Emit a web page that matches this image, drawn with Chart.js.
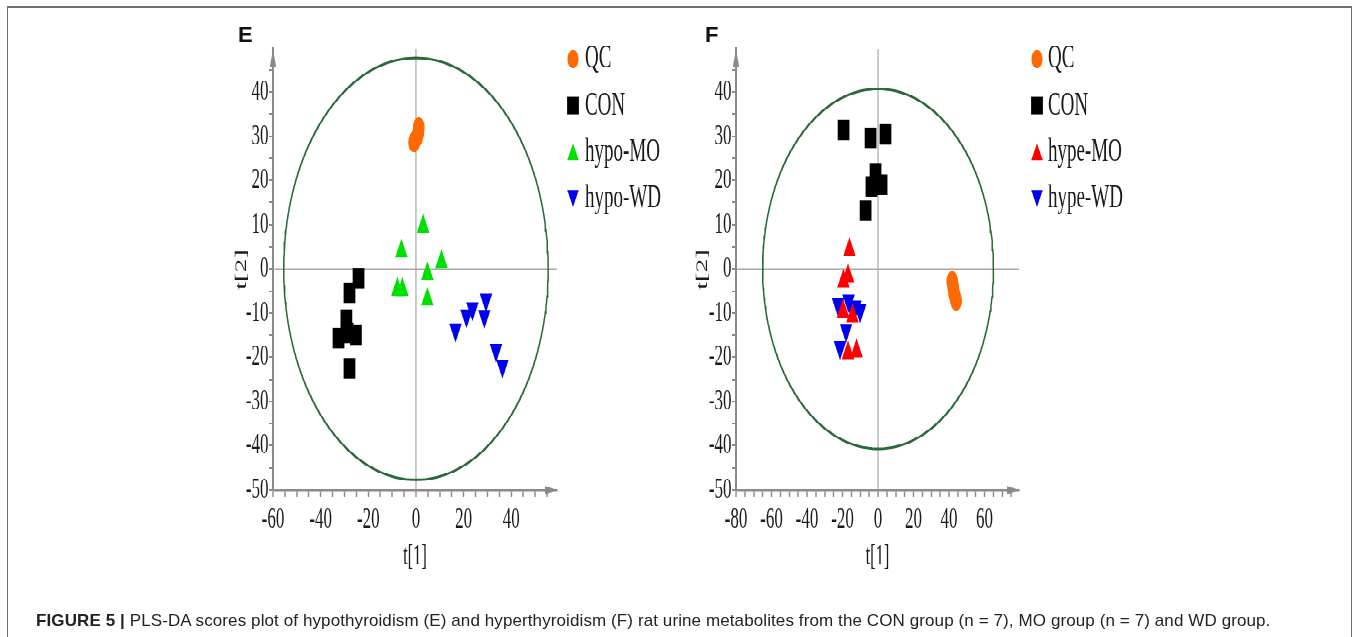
<!DOCTYPE html>
<html>
<head>
<meta charset="utf-8">
<script src="https://cdn.jsdelivr.net/npm/chart.js@4.4.1/dist/chart.umd.min.js"></script>
<style>
html,body{margin:0;padding:0;background:#fff;}
body{width:1356px;height:637px;position:relative;overflow:hidden;font-family:"Liberation Sans",Arial,sans-serif;}
#frame{position:absolute;left:7px;top:6px;width:1345px;height:700px;border-top:2px solid #6e6e6e;border-left:1.5px solid #6e6e6e;border-right:1.5px solid #6e6e6e;box-sizing:border-box;}
#stretch{position:absolute;left:0;top:0;width:1356px;transform-origin:0 0;}
.box{position:absolute;top:0;}
.panel{position:absolute;top:24px;font-weight:bold;font-size:22px;line-height:22px;color:#111;}
#caption{position:absolute;left:36px;top:612px;font-size:17px;line-height:17px;letter-spacing:0.1px;color:#222;white-space:nowrap;}
</style>
</head>
<body>
<div id="frame"></div>
<div id="stretch">
  <div class="box" id="boxE"><canvas id="cE"></canvas></div>
  <div class="box" id="boxF"><canvas id="cF"></canvas></div>
</div>
<div class="panel" style="left:238px;">E</div>
<div class="panel" style="left:705px;">F</div>
<div id="caption"><b>FIGURE 5 |</b> PLS-DA scores plot of hypothyroidism (E) and hyperthyroidism (F) rat urine metabolites from the CON group (n = 7), MO group (n = 7) and WD group.</div>
<script>
// ---------- data ----------
const seriesLabelsE = ['QC', 'CON', 'hypo-MO', 'hypo-WD'];
const seriesLabelsF = ['QC', 'CON', 'hype-MO', 'hype-WD'];

const qcE  = [[1.2, 32.0], [1.0, 30.8], [0.5, 29.8], [-0.5, 29.0], [-0.8, 28.6]];
const conE = [[-24.1, -2.1], [-27.9, -5.4], [-29.2, -11.5], [-32.5, -15.7], [-25.2, -14.9], [-28.7, -14.5], [-27.9, -22.5]];
const moE  = [[3.0, 9.6], [-6.1, 4.0], [10.7, 1.6], [4.8, -1.1], [-7.8, -4.7], [-5.7, -4.7], [4.8, -6.9]];
const wdE  = [[16.6, -13.8], [21.2, -10.6], [23.7, -9.0], [29.4, -7.0], [28.7, -10.7], [33.6, -18.4], [36.3, -22.0]];

const qcF  = [[41.8, -2.8], [42.3, -4.0], [42.8, -5.5], [43.5, -6.5], [44.0, -7.2]];
const conF = [[-19.4, 31.4], [-4.2, 29.6], [4.2, 30.4], [-1.4, 21.6], [-3.7, 18.6], [2.0, 19.0], [-7.0, 13.1]];
const moF  = [[-16.1, 4.3], [-16.9, -1.6], [-19.5, -2.8], [-19.7, -9.6], [-14.4, -10.7], [-16.9, -19.0], [-12.1, -18.6]];
const wdF  = [[-22.5, -8.1], [-16.6, -7.2], [-14.4, -9.2], [-10.1, -9.5], [-18.0, -13.9], [-21.4, -17.8], [-12.8, -8.6]];

const xTickLabelsE = [-60, -40, -20, 0, 20, 40];
const xTickLabelsF = [-80, -60, -40, -20, 0, 20, 40, 60];
const yTickLabels  = [-50, -40, -30, -20, -10, 0, 10, 20, 30, 40];

const ellipseE = {rx: 55.5, ry: 47.7};
const ellipseF = {rx: 65.0, ry: 40.7};
const rangeE = {xMin: -60, xMax: 59.2, yMin: -50, yMax: 49.7};
const rangeF = {xMin: -80, xMax: 79.4, yMin: -50, yMax: 49.7};

// ---------- styling / layout ----------
const K = 1.75;              // vertical stretch of the plot image
const H = 637 / K;
const stretch = document.getElementById('stretch');
stretch.style.height = H + 'px';
stretch.style.transform = 'scaleY(' + K + ')';

const ORANGE = '#ff6a00', BLACK = '#000000', GREEN = '#00e000', BLUE = '#0000f0', RED = '#ff0000';
const AXIS = '#8a8a8a', ZERO = '#a8a8a8', ELL = '#2a6a3a', TXT = '#1a1a1a';
const SERIF = '"Liberation Serif", "Times New Roman", serif';

const toXY = a => a.map(p => ({x: p[0], y: p[1]}));
function ellipsePts(e) {
  const pts = [];
  for (let i = 0; i <= 240; i++) {
    const t = i / 240 * 2 * Math.PI;
    pts.push({x: e.rx * Math.cos(t), y: e.ry * Math.sin(t)});
  }
  return pts;
}
function tickList(min, max, step) {
  const out = [];
  for (let v = min; v <= max + 1e-9; v += step) out.push({value: v});
  return out;
}

const decor = {
  id: 'decor',
  afterDraw(chart, args, opts) {
    const ctx = chart.ctx, a = chart.chartArea;
    ctx.save();
    ctx.fillStyle = AXIS;
    // x axis arrow
    ctx.beginPath();
    ctx.moveTo(a.right, a.bottom);
    ctx.lineTo(a.right - 12, a.bottom - 4.2 / K);
    ctx.lineTo(a.right - 12, a.bottom + 4.2 / K);
    ctx.closePath(); ctx.fill();
    // y axis arrow
    ctx.beginPath();
    ctx.moveTo(a.left, a.top);
    ctx.lineTo(a.left - 3.2, a.top + 18 / K);
    ctx.lineTo(a.left + 3.2, a.top + 18 / K);
    ctx.closePath(); ctx.fill();
    // legend
    ctx.font = '19px ' + SERIF;
    ctx.textBaseline = 'middle';
    ctx.textAlign = 'left';
    const items = chart.data.datasets.filter(d => d.mk);
    items.forEach((d, i) => {
      const cy = (59 + i * 46.5) / K;
      const cx = opts.markX;
      ctx.fillStyle = d.backgroundColor;
      ctx.beginPath();
      if (d.mk === 'circle') {
        ctx.ellipse(cx, cy, 5.5, 5.3, 0, 0, Math.PI * 2);
      } else if (d.mk === 'rect') {
        ctx.rect(cx - 5.9, cy - 5.0, 11.8, 10.0);
      } else if (d.mk === 'up') {
        ctx.moveTo(cx, cy - 4.8); ctx.lineTo(cx + 5.8, cy + 4.8); ctx.lineTo(cx - 5.8, cy + 4.8); ctx.closePath();
      } else {
        ctx.moveTo(cx, cy + 4.8); ctx.lineTo(cx + 5.8, cy - 4.8); ctx.lineTo(cx - 5.8, cy - 4.8); ctx.closePath();
      }
      ctx.fill();
      ctx.fillStyle = TXT;
      ctx.fillText(d.label, opts.textX, cy);
    });
    ctx.restore();
  }
};

function makeChart(id, boxId, boxLeft, boxWidth, yAxisWidth, plotRight, titleX, labels, sets, ell, range, xLabels, markX, textX) {
  const box = document.getElementById(boxId);
  box.style.left = boxLeft + 'px';
  box.style.width = boxWidth + 'px';
  box.style.height = H + 'px';
  const top = 49 / K, bottom = 490 / K, axisBottom = 327.9;
  const xSet = new Set(xLabels), ySet = new Set(yTickLabels);
  const pt = (lab, data, color, style, r, rot, mk, order) => ({
    label: lab, data: toXY(data), backgroundColor: color, borderWidth: 0,
    pointStyle: style, pointRadius: r, pointRotation: rot, pointHoverRadius: r, mk: mk, order: order
  });
  const datasets = [
    pt(labels[0], sets[0], ORANGE, 'circle', 5.8, 0, 'circle', 4),
    pt(labels[1], sets[1], BLACK, 'rect', 8.3, 0, 'rect', 3),
    pt(labels[2], sets[2], sets.moColor, 'triangle', 7.2, 0, 'up', 1),
    pt(labels[3], sets[3], BLUE, 'triangle', 7.2, 180, 'down', 2),
    {label: 'ellipse', data: ellipsePts(ell), showLine: true, pointRadius: 0, borderColor: ELL, borderWidth: 1.5, order: 20},
    {label: 'h0', data: [{x: range.xMin + 0.5, y: 0}, {x: range.xMax, y: 0}], showLine: true, pointRadius: 0, borderColor: ZERO, borderWidth: 0.75, order: 21},
    {label: 'v0', data: [{x: 0, y: range.yMin}, {x: 0, y: range.yMax}], showLine: true, pointRadius: 0, borderColor: ZERO, borderWidth: 1.2, order: 21}
  ];
  return new Chart(document.getElementById(id), {
    type: 'scatter',
    data: {datasets},
    plugins: [decor],
    options: {
      responsive: true,
      maintainAspectRatio: false,
      devicePixelRatio: 2,
      animation: false,
      events: [],
      layout: {padding: {left: 0, right: boxWidth - (plotRight - boxLeft), top: top, bottom: H - axisBottom}},
      plugins: {
        legend: {display: false},
        tooltip: {enabled: false},
        decor: {markX: markX - boxLeft, textX: textX - boxLeft}
      },
      scales: {
        x: {
          type: 'linear', min: range.xMin, max: range.xMax,
          afterBuildTicks: s => { s.ticks = tickList(xLabels[0], range.xMax, 5); },
          afterFit: s => { s.height = axisBottom - bottom; },
          ticks: {autoSkip: false, maxRotation: 0, padding: 3, color: TXT,
                  font: {family: SERIF, size: 17},
                  callback: v => xSet.has(v) ? String(v) : ''},
          grid: {drawOnChartArea: false, drawTicks: true, tickLength: 4, tickColor: AXIS, tickWidth: 1.4},
          border: {display: true, color: AXIS, width: 1.2},
          title: {display: true, text: 't[1]', color: TXT, font: {family: SERIF, size: 16.5}, padding: {top: 0, bottom: 0}}
        },
        y: {
          type: 'linear', min: range.yMin, max: range.yMax,
          afterBuildTicks: s => { s.ticks = tickList(-50, 45, 5); },
          afterFit: s => { s.width = yAxisWidth; },
          ticks: {autoSkip: false, padding: 0.5, color: TXT,
                  font: {family: SERIF, size: 17},
                  callback: v => ySet.has(v) ? String(v) : ''},
          grid: {drawOnChartArea: false, drawTicks: true, tickLength: 4, tickColor: AXIS, tickWidth: 1},
          border: {display: true, color: AXIS, width: 2},
          title: {display: true, text: 't[2]', color: TXT, font: {family: SERIF, size: 16},
                  padding: {top: titleX - boxLeft - 9.6, bottom: titleX - boxLeft - 9.6}}
        }
      }
    }
  });
}

const setsE = [qcE, conE, moE, wdE]; setsE.moColor = GREEN;
const setsF = [qcF, conF, moF, wdF]; setsF.moColor = RED;
makeChart('cE', 'boxE', 200, 480, 73, 557, 242, seriesLabelsE, setsE, ellipseE, rangeE, xTickLabelsE, 573, 585);
makeChart('cF', 'boxF', 660, 490, 76, 1019, 703, seriesLabelsF, setsF, ellipseF, rangeF, xTickLabelsF, 1037, 1048);
</script>
</body>
</html>
